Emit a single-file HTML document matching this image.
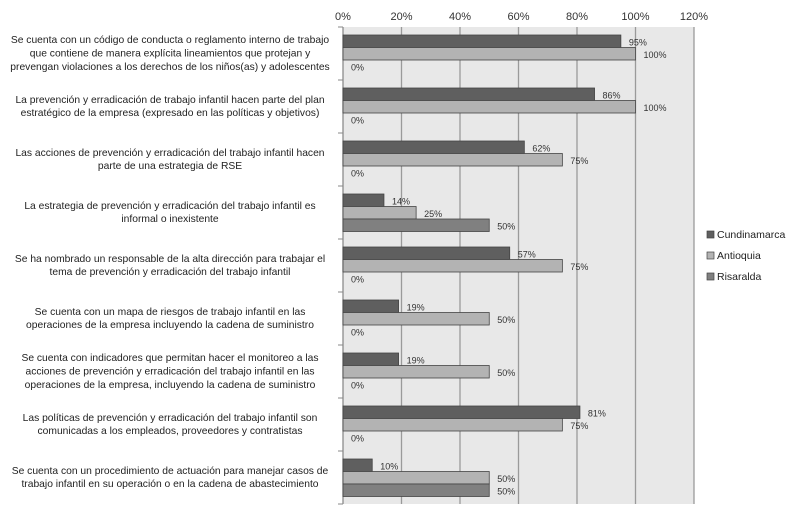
<!DOCTYPE html>
<html><head><meta charset="utf-8"><style>
html,body{margin:0;padding:0;background:#fff;}
svg{display:block;font-family:"Liberation Sans",sans-serif;}
</style></head><body>
<svg id="chart" width="798" height="512"></svg>
<script>
const categories = [
 ["Se cuenta con un código de conducta o reglamento interno de trabajo","que contiene de manera explícita lineamientos que protejan y","prevengan violaciones a los derechos de los niños(as) y adolescentes"],
 ["La prevención y erradicación de trabajo infantil hacen parte del plan","estratégico de la empresa (expresado en las políticas y objetivos)"],
 ["Las acciones de prevención y erradicación del trabajo infantil hacen","parte de una estrategia de RSE"],
 ["La estrategia de prevención y erradicación del trabajo infantil es","informal o inexistente"],
 ["Se ha nombrado un responsable de la alta dirección para trabajar el","tema de prevención y erradicación del trabajo infantil"],
 ["Se cuenta con un mapa de riesgos de trabajo infantil en las","operaciones de la empresa incluyendo la cadena de suministro"],
 ["Se cuenta con indicadores que permitan hacer el monitoreo a las","acciones de prevención y erradicación del trabajo infantil en las","operaciones de la empresa, incluyendo la cadena de suministro"],
 ["Las políticas de prevención y erradicación del trabajo infantil son","comunicadas a los empleados, proveedores y contratistas"],
 ["Se cuenta con un procedimiento de actuación para manejar casos de","trabajo infantil en su operación o en la cadena de abastecimiento"]
];
const seriesNames = ["Cundinamarca","Antioquia","Risaralda"];
const cundinamarca = [95,86,62,14,57,19,19,81,10];
const antioquia = [100,100,75,25,75,50,50,75,50];
const risaralda = [0,0,0,50,0,0,0,0,50];
const ticks = [0,20,40,60,80,100,120];

const NS="http://www.w3.org/2000/svg";
const svg=document.getElementById('chart');
function mk(tag,attrs,parent){const e=document.createElementNS(NS,tag);for(const k in attrs)e.setAttribute(k,attrs[k]);(parent||svg).appendChild(e);return e;}
const X0=343, X1=694, Y0=27, Y1=504;
const x=v=>X0+(v/120)*(X1-X0);
const catH=(Y1-Y0)/categories.length;
const barH=12.5;
const colors=["#5f5f5f","#b3b3b3","#808080"];
const series=[cundinamarca,antioquia,risaralda];

const bg=mk('rect',{x:X0,y:Y0,width:X1-X0,height:Y1-Y0,fill:"#e8e8e8"});


ticks.forEach(t=>{
 const g=mk('line',{x1:x(t),x2:x(t),y1:Y0,y2:Y1,stroke:"#9a9a9a","stroke-width":1.3});
 
 
 const tl=mk('text',{x:x(t),y:20,"text-anchor":"middle","font-size":11,fill:"#333"});
 tl.textContent=t+"%";
 
 
});
mk('line',{x1:X0,x2:X0,y1:Y0,y2:Y1,stroke:"#888","stroke-width":1});
for(let i=0;i<=categories.length;i++){mk('line',{x1:X0-5,x2:X0,y1:Y0+i*catH,y2:Y0+i*catH,stroke:"#888"});}

categories.forEach((lines,i)=>{
 const top=Y0+i*catH;
 series.forEach((s,j)=>{
  const y=top+8+j*barH;
  const b=mk('rect',{x:X0,y:y,width:x(s[i])-X0,height:barH,fill:colors[j],stroke:s[i]>0?"#444":"none","stroke-width":0.8});
  
  
  const l=mk('text',{x:x(s[i])+8,y:y+barH-2,"font-size":9,fill:"#333"});
  l.textContent=s[i]+"%";
  
  
 });
 const cy=top+catH/2+3;
 const n=lines.length;
 const t=mk('text',{"text-anchor":"middle","font-size":10.3,fill:"#222"});
 
 
 lines.forEach((ln,k)=>{const ts=mk('tspan',{x:170,y:cy+(k-(n-1)/2)*13.3},t);ts.textContent=ln;});
});

seriesNames.forEach((nm,j)=>{
 const y=238+j*21;
 const sq=mk('rect',{x:707,y:y-7,width:7,height:7,fill:colors[j],stroke:"#444","stroke-width":0.7});
 
 
 const lt=mk('text',{x:717,y:y,"font-size":10.5,fill:"#222"});
 lt.textContent=nm;
 
 
});
</script>
</body></html>
